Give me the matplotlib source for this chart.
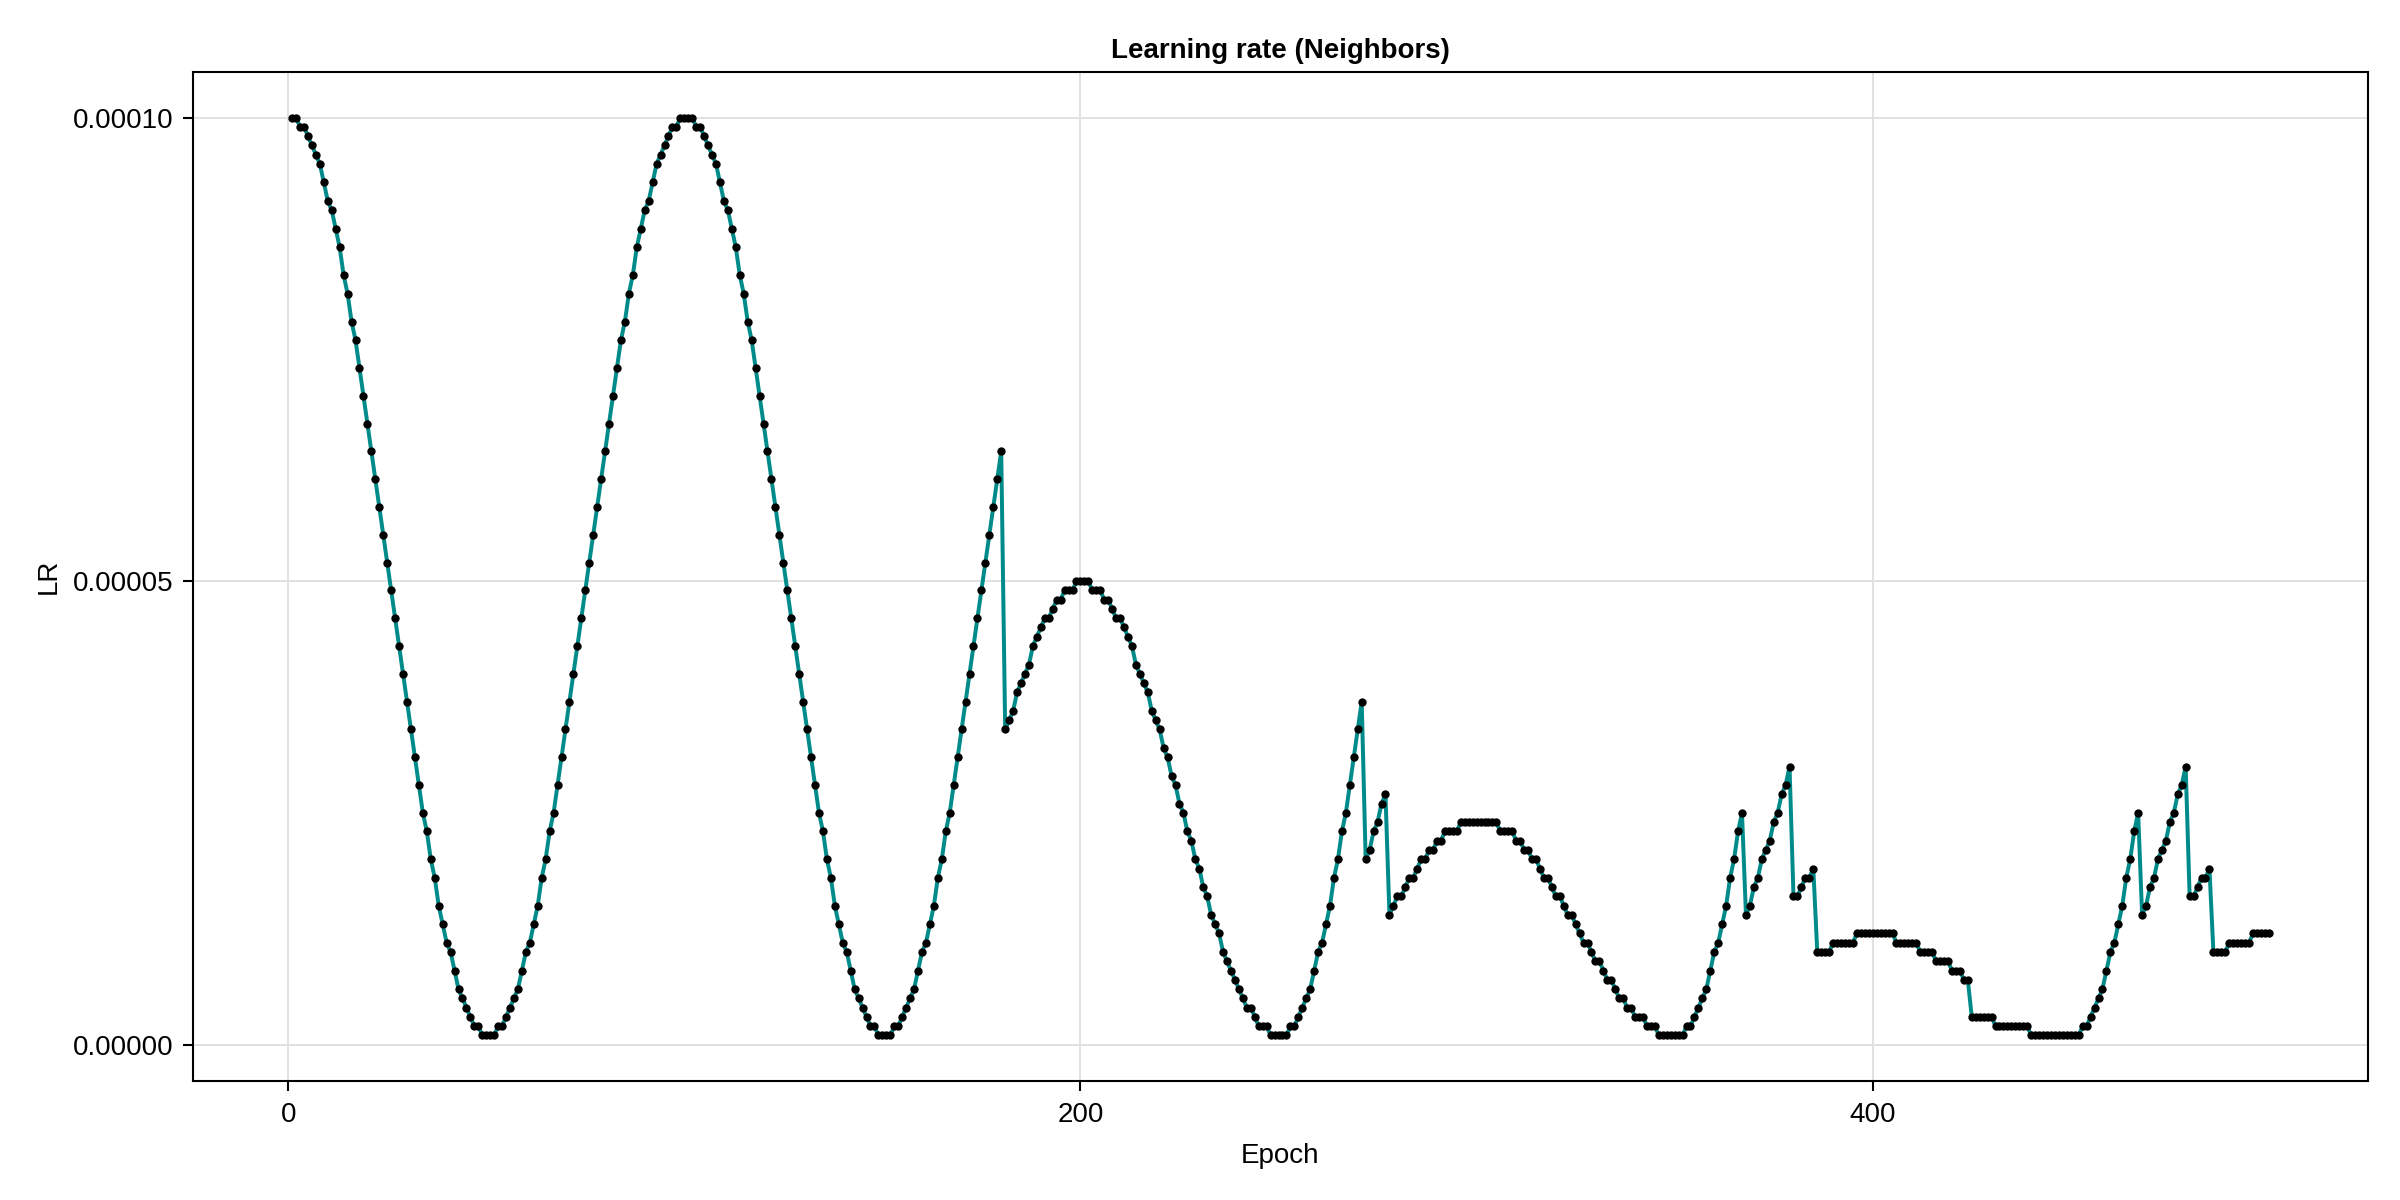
import numpy as np
import matplotlib
matplotlib.use("Agg")
import matplotlib.pyplot as plt

plt.rcParams['font.family'] = ['Liberation Sans', 'DejaVu Sans']

# Learning-rate values in units of 1e-6, per epoch segment
lr_e001_050 = [100, 100, 99, 99, 98, 97, 96, 95, 93, 91, 90, 88, 86, 83, 81, 78, 76, 73, 70, 67,
               64, 61, 58, 55, 52, 49, 46, 43, 40, 37, 34, 31, 28, 25, 23, 20, 18, 15, 13, 11,
               10, 8, 6, 5, 4, 3, 2, 2, 1, 1]
lr_e051_100 = [1, 1, 2, 2, 3, 4, 5, 6, 8, 10, 11, 13, 15, 18, 20, 23, 25, 28, 31, 34,
               37, 40, 43, 46, 49, 52, 55, 58, 61, 64, 67, 70, 73, 76, 78, 81, 83, 86, 88, 90,
               91, 93, 95, 96, 97, 98, 99, 99, 100, 100]
lr_e101_150 = [100, 100, 99, 99, 98, 97, 96, 95, 93, 91, 90, 88, 86, 83, 81, 78, 76, 73, 70, 67,
               64, 61, 58, 55, 52, 49, 46, 43, 40, 37, 34, 31, 28, 25, 23, 20, 18, 15, 13, 11,
               10, 8, 6, 5, 4, 3, 2, 2, 1, 1]
lr_e151_180 = [1, 1, 2, 2, 3, 4, 5, 6, 8, 10, 11, 13, 15, 18, 20, 23, 25, 28, 31, 34,
               37, 40, 43, 46, 49, 52, 55, 58, 61, 64]
lr_e181_200 = [34, 35, 36, 38, 39, 40, 41, 43, 44, 45, 46, 46, 47, 48, 48, 49, 49, 49, 50, 50]
lr_e201_250 = [50, 50, 49, 49, 49, 48, 48, 47, 46, 46, 45, 44, 43, 41, 40, 39, 38, 36, 35, 34,
               32, 31, 29, 28, 26, 25, 23, 22, 20, 19, 17, 16, 14, 13, 12, 10, 9, 8, 7, 6,
               5, 4, 4, 3, 2, 2, 2, 1, 1, 1]
lr_e251_271 = [1, 1, 2, 2, 3, 4, 5, 6, 8, 10, 11, 13, 15, 18, 20, 23, 25, 28, 31, 34, 37]
lr_e272_277 = [20, 21, 23, 24, 26, 27]
lr_e278_300 = [14, 15, 16, 16, 17, 18, 18, 19, 20, 20, 21, 21, 22, 22, 23, 23, 23, 23, 24, 24,
               24, 24, 24]
lr_e301_350 = [24, 24, 24, 24, 24, 23, 23, 23, 23, 22, 22, 21, 21, 20, 20, 19, 18, 18, 17, 16,
               16, 15, 14, 14, 13, 12, 11, 11, 10, 9, 9, 8, 7, 7, 6, 5, 5, 4, 4, 3,
               3, 3, 2, 2, 2, 1, 1, 1, 1, 1]
lr_e351_367 = [1, 1, 2, 2, 3, 4, 5, 6, 8, 10, 11, 13, 15, 18, 20, 23, 25]
lr_e368_379 = [14, 15, 17, 18, 20, 21, 22, 24, 25, 27, 28, 30]
lr_e380_385 = [16, 16, 17, 18, 18, 19]
lr_e386_424 = [10, 10, 10, 10, 11, 11, 11, 11, 11, 11, 12, 12, 12, 12, 12, 12, 12, 12, 12, 12,
               11, 11, 11, 11, 11, 11, 10, 10, 10, 10, 9, 9, 9, 9, 8, 8, 8, 7, 7]
lr_e425_450 = [3, 3, 3, 3, 3, 3, 2, 2, 2, 2, 2, 2, 2, 2, 2, 1, 1, 1, 1, 1, 1, 1, 1, 1, 1, 1]
lr_e451_467 = [1, 1, 2, 2, 3, 4, 5, 6, 8, 10, 11, 13, 15, 18, 20, 23, 25]
lr_e468_479 = [14, 15, 17, 18, 20, 21, 22, 24, 25, 27, 28, 30]
lr_e480_485 = [16, 16, 17, 18, 18, 19]
lr_e486_500 = [10, 10, 10, 10, 11, 11, 11, 11, 11, 11, 12, 12, 12, 12, 12]

segments = [lr_e001_050, lr_e051_100, lr_e101_150, lr_e151_180, lr_e181_200, lr_e201_250,
            lr_e251_271, lr_e272_277, lr_e278_300, lr_e301_350, lr_e351_367, lr_e368_379,
            lr_e380_385, lr_e386_424, lr_e425_450, lr_e451_467, lr_e468_479, lr_e480_485,
            lr_e486_500]

lr = np.concatenate([np.array(s, dtype=float) for s in segments]) * 1e-6
epochs = np.arange(1, len(lr) + 1)

x_ticks = [0, 200, 400]
y_ticks = [0.0, 0.00005, 0.00010]
y_tick_labels = ["0.00000", "0.00005", "0.00010"]

title = "Learning rate (Neighbors)"
x_label = "Epoch"
y_label = "LR"

FS = 13.3

fig = plt.figure(figsize=(16, 8), dpi=150)
left, right, bottom, top = 0.08054, 0.98654, 0.09892, 0.94025
ax = fig.add_axes([left, bottom, right - left, top - bottom])

ax.plot(epochs, lr, color='#008B8B', linewidth=1.9, zorder=2, solid_capstyle='round')
ax.plot(epochs, lr, linestyle='none', marker='o', color='black', markersize=4.0,
        markeredgewidth=0, zorder=3)

span_x = epochs.max() - epochs.min()
ax.set_xlim(epochs.min() - 0.05 * span_x, epochs.max() + 0.05 * span_x)
span_y = lr.max() - lr.min()
ax.set_ylim(lr.min() - 0.05 * span_y, lr.max() + 0.05 * span_y)

ax.set_xticks(x_ticks)
ax.set_xticklabels([str(t) for t in x_ticks])
ax.set_yticks(y_ticks)
ax.set_yticklabels(y_tick_labels)

ax.grid(True, color='#E0E0E0', linewidth=0.9)
ax.set_axisbelow(True)

for sp in ax.spines.values():
    sp.set_color('black')
    sp.set_linewidth(1.0)

ax.tick_params(axis='both', direction='out', length=4.8, width=1.0, color='black',
               labelsize=FS, labelcolor='black')
ax.tick_params(axis='y', pad=4.5)
ax.tick_params(axis='x', pad=5.3)

fig.text((left + right) / 2, 1 - 50.5 / 1200, title, ha='center', va='center',
         fontsize=FS, fontweight='bold')
fig.text((left + right) / 2, 1 - 1156 / 1200, x_label, ha='center', va='center',
         fontsize=FS)
fig.text(49 / 2400, (top + bottom) / 2, y_label, ha='center', va='center',
         fontsize=FS, rotation=90)

fig.savefig("out.png", dpi=150, facecolor='white')
